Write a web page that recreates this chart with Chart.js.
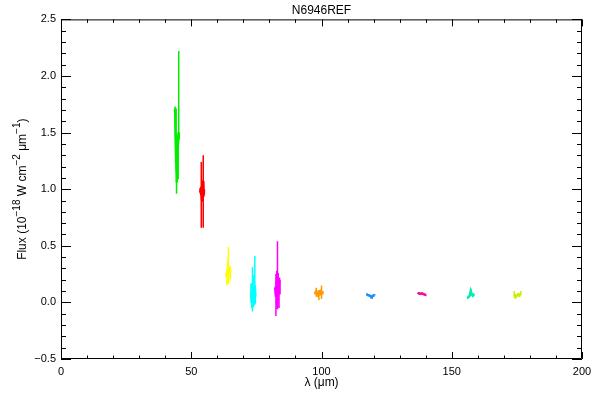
<!DOCTYPE html>
<html>
<head>
<meta charset="utf-8">
<script src="https://cdn.jsdelivr.net/npm/chart.js@4/dist/chart.umd.min.js"></script>
<style>
  html, body { margin: 0; padding: 0; background: #fff; }
  #wrap { width: 600px; height: 400px; }
</style>
</head>
<body>
<div id="wrap"><canvas id="chart"></canvas></div>
<script>
// Axis ticks (labelled)
const xTicks = [0, 50, 100, 150, 200];
const yTicks = [-0.5, 0.0, 0.5, 1.0, 1.5, 2.0, 2.5];

// Y title pieces: [text, isSuperscript]
const yTitleParts = [['Flux (10', false], ['−18', true], [' W cm', false], ['−2', true], [' μm', false], ['−1', true], [')', false]];

// Detector segments: wavelength (um), flux, error bar low/high (1e-18 W cm-2 um-1)
const greenLam  = [43.8, 44.0, 44.2, 44.35, 44.5, 44.65, 44.8, 45.0, 45.2];
const greenFlux = [1.71, 1.45, 1.30, 1.15, 1.40, 1.10, 1.35, 1.45, 1.50];
const greenLo   = [1.69, 1.24, 1.06, 0.96, 1.20, 1.06, 1.20, 1.40, 1.47];
const greenHi   = [1.73, 1.72, 1.48, 1.45, 1.48, 1.40, 1.48, 1.50, 2.22];

const redLam  = [53.4, 53.65, 53.85, 54.1, 54.35, 54.6, 54.85];
const redFlux = [0.99, 0.97, 1.02, 0.90, 1.06, 1.00, 0.95];
const redLo   = [0.97, 0.95, 0.66, 0.89, 0.92, 0.66, 0.93];
const redHi   = [1.01, 0.99, 1.24, 1.02, 1.08, 1.30, 1.07];

const yellowLam  = [63.4, 63.7, 64.0, 64.25, 64.5, 64.75, 65.0];
const yellowFlux = [0.24, 0.26, 0.28, 0.30, 0.27, 0.25, 0.29];
const yellowLo   = [0.22, 0.15, 0.24, 0.16, 0.22, 0.23, 0.26];
const yellowHi   = [0.26, 0.30, 0.38, 0.49, 0.32, 0.28, 0.32];

const cyanLam  = [72.9, 73.2, 73.5, 73.8, 74.1, 74.4, 74.6];
const cyanFlux = [0.08, 0.05, 0.12, 0.02, 0.10, 0.15, 0.05];
const cyanLo   = [0.00, -0.05, -0.08, -0.04, -0.03, -0.02, -0.01];
const cyanHi   = [0.17, 0.14, 0.31, 0.10, 0.24, 0.41, 0.12];

const magentaLam  = [82.2, 82.5, 82.8, 83.1, 83.4, 83.7, 83.9];
const magentaFlux = [0.13, 0.05, 0.15, 0.10, 0.20, 0.08, 0.20];
const magentaLo   = [0.12, -0.12, -0.02, -0.06, 0.02, -0.05, 0.18];
const magentaHi   = [0.14, 0.25, 0.28, 0.54, 0.26, 0.22, 0.22];

const orangeLam  = [97.5, 98.0, 98.5, 99.0, 99.5, 100.0, 100.5];
const orangeFlux = [0.08, 0.10, 0.07, 0.09, 0.10, 0.08, 0.09];
const orangeLo   = [0.07, 0.05, 0.05, 0.02, 0.06, 0.03, 0.07];
const orangeHi   = [0.09, 0.13, 0.09, 0.11, 0.11, 0.15, 0.10];

const blueLam  = [117.4, 117.9, 118.4, 118.9, 119.4, 119.9, 120.4];
const blueFlux = [0.07, 0.065, 0.06, 0.055, 0.05, 0.06, 0.065];
const blueLo   = [0.06, 0.055, 0.05, 0.035, 0.03, 0.05, 0.06];
const blueHi   = [0.08, 0.075, 0.07, 0.065, 0.06, 0.07, 0.075];

const pinkLam  = [137.0, 137.5, 138.0, 138.5, 139.0, 139.5, 140.0];
const pinkFlux = [0.08, 0.08, 0.075, 0.08, 0.075, 0.07, 0.07];
const pinkLo   = [0.075, 0.07, 0.07, 0.07, 0.07, 0.06, 0.055];
const pinkHi   = [0.085, 0.085, 0.08, 0.085, 0.08, 0.075, 0.075];

const tealLam  = [156.1, 156.5, 156.9, 157.3, 157.7, 158.1, 158.5];
const tealFlux = [0.04, 0.05, 0.06, 0.10, 0.07, 0.06, 0.07];
const tealLo   = [0.03, 0.04, 0.05, 0.07, 0.06, 0.05, 0.06];
const tealHi   = [0.05, 0.06, 0.07, 0.12, 0.08, 0.07, 0.08];

const limeLam  = [174.0, 174.5, 175.0, 175.5, 176.0, 176.5];
const limeFlux = [0.07, 0.05, 0.06, 0.07, 0.06, 0.08];
const limeLo   = [0.04, 0.03, 0.05, 0.06, 0.05, 0.07];
const limeHi   = [0.10, 0.07, 0.07, 0.08, 0.07, 0.10];

const segments = [
  { color: '#00ee00', lam: greenLam,   flux: greenFlux,   lo: greenLo,   hi: greenHi },
  { color: '#ff0000', lam: redLam,     flux: redFlux,     lo: redLo,     hi: redHi },
  { color: '#ffff00', lam: yellowLam,  flux: yellowFlux,  lo: yellowLo,  hi: yellowHi },
  { color: '#00ffff', lam: cyanLam,    flux: cyanFlux,    lo: cyanLo,    hi: cyanHi },
  { color: '#ff00ff', lam: magentaLam, flux: magentaFlux, lo: magentaLo, hi: magentaHi },
  { color: '#ff9900', lam: orangeLam,  flux: orangeFlux,  lo: orangeLo,  hi: orangeHi },
  { color: '#1e8fff', lam: blueLam,    flux: blueFlux,    lo: blueLo,    hi: blueHi },
  { color: '#f0109a', lam: pinkLam,    flux: pinkFlux,    lo: pinkLo,    hi: pinkHi },
  { color: '#00eeb0', lam: tealLam,    flux: tealFlux,    lo: tealLo,    hi: tealHi },
  { color: '#c8f000', lam: limeLam,    flux: limeFlux,    lo: limeLo,    hi: limeHi }
];

const FAMILY = '"Liberation Sans", Arial, sans-serif';
const FONT = { family: FAMILY, size: 11 };

// build datasets: one for error bars (segments broken by nulls), one for the spectrum
const datasets = [];
segments.forEach(seg => {
  const bars = [];
  seg.lam.forEach((l, i) => {
    bars.push({ x: l, y: seg.lo[i] }, { x: l, y: seg.hi[i] }, { x: l, y: null });
  });
  datasets.push({
    data: bars,
    borderColor: seg.color,
    borderWidth: 1.5,
    pointRadius: 0,
    spanGaps: false
  });
  datasets.push({
    data: seg.lam.map((l, i) => ({ x: l, y: seg.flux[i] })),
    borderColor: seg.color,
    borderWidth: 2.5,
    pointRadius: 0
  });
});

// box frame with IDL-style inward ticks on all four sides
const frameTicks = {
  id: 'frameTicks',
  afterDatasetsDraw(chart) {
    const { ctx, chartArea: a, scales: { x, y } } = chart;
    ctx.save();
    ctx.strokeStyle = '#000';
    ctx.lineWidth = 1;
    ctx.beginPath();
    ctx.rect(a.left + 0.5, a.top + 0.5, a.right - a.left - 1, a.bottom - a.top - 1);
    for (let v = 0; v <= 200; v += 10) {
      const px = Math.round(x.getPixelForValue(v)) + 0.5;
      const len = v % 50 === 0 ? 7 : 3.5;
      ctx.moveTo(px, a.bottom); ctx.lineTo(px, a.bottom - len);
      ctx.moveTo(px, a.top); ctx.lineTo(px, a.top + len);
    }
    for (let k = -5; k <= 25; k++) {
      const py = Math.round(y.getPixelForValue(k / 10)) + 0.5;
      const len = k % 5 === 0 ? 10 : 5;
      ctx.moveTo(a.left, py); ctx.lineTo(a.left + len, py);
      ctx.moveTo(a.right, py); ctx.lineTo(a.right - len, py);
    }
    ctx.stroke();
    ctx.restore();
  }
};

// rotated y title with real superscripts
const yTitle = {
  id: 'yTitle',
  afterDraw(chart) {
    const { ctx, chartArea: a } = chart;
    const main = '12px ' + FAMILY;
    const sup = '10px ' + FAMILY;
    ctx.save();
    let total = 0;
    yTitleParts.forEach(([t, s]) => { ctx.font = s ? sup : main; total += ctx.measureText(t).width; });
    ctx.translate(26, (a.top + a.bottom) / 2);
    ctx.rotate(-Math.PI / 2);
    ctx.fillStyle = '#000';
    ctx.textBaseline = 'alphabetic';
    let cx = -total / 2;
    yTitleParts.forEach(([t, s]) => {
      ctx.font = s ? sup : main;
      ctx.fillText(t, cx, s ? -6 : 0);
      cx += ctx.measureText(t).width;
    });
    ctx.restore();
  }
};

new Chart(document.getElementById('chart'), {
  type: 'line',
  data: { datasets },
  options: {
    responsive: true,
    maintainAspectRatio: false,
    animation: false,
    layout: { padding: { left: 0, right: 18, top: 0, bottom: 0 } },
    plugins: {
      legend: { display: false },
      tooltip: { enabled: false },
      title: {
        display: true,
        text: 'N6946REF',
        fullSize: false,
        color: '#000',
        font: { family: FAMILY, size: 12, weight: 'normal' },
        padding: { top: 3, bottom: 2 }
      }
    },
    scales: {
      x: {
        type: 'linear',
        min: 0,
        max: 200,
        afterBuildTicks: s => { s.ticks = xTicks.map(v => ({ value: v })); },
        afterFit: s => { s.height = 41; },
        grid: { display: false, drawTicks: false },
        border: { display: false },
        ticks: { color: '#000', font: FONT, padding: 6, maxRotation: 0 },
        title: {
          display: true,
          text: 'λ (μm)',
          color: '#000',
          font: { family: FAMILY, size: 12 },
          padding: { top: 2, bottom: 10 }
        }
      },
      y: {
        type: 'linear',
        min: -0.5,
        max: 2.5,
        afterBuildTicks: s => { s.ticks = yTicks.map(v => ({ value: v })); },
        afterFit: s => { s.width = 61; },
        grid: { display: false, drawTicks: false },
        border: { display: false },
        ticks: {
          color: '#000',
          font: FONT,
          padding: 5,
          callback: v => (v < 0 ? '−' + Math.abs(v).toFixed(1) : v.toFixed(1))
        },
        title: { display: false }
      }
    }
  },
  plugins: [frameTicks, yTitle]
});
</script>
</body>
</html>
